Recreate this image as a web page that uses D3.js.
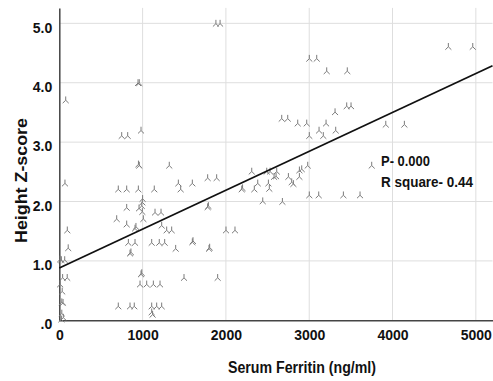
<!DOCTYPE html>
<html>
<head>
<meta charset="utf-8">
<script src="https://cdn.jsdelivr.net/npm/d3@7"></script>
<style>
  html, body { margin: 0; padding: 0; background: #fff; }
  svg { display: block; }
  text { font-family: "Liberation Sans", Arial, sans-serif; fill: #111; }
</style>
</head>
<body>
<svg id="chart" width="493" height="381"></svg>
<script>
// Serum ferritin (ng/ml) and height Z-score
const ferritin = [
  77, 68, 96, 107, 10, 25, 65, 40, 95, 10, 35, 30, 45, 30, 48, 25,
  708, 849, 900, 1109, 1169, 1229, 1109, 1120,
  969, 1049, 1129, 1209, 981, 990, 849, 860,
  829, 909, 1109, 1200, 1265, 1289, 1349, 1229, 909, 920,
  809, 689, 1009, 997, 1149, 1221, 809, 957, 997, 1000, 990,
  708, 809, 949, 1140, 960, 950, 749, 821, 981, 945, 960,
  1320, 1429, 1457, 1597, 1781, 1889, 1781, 1790,
  1397, 1597, 1605, 1797, 1805, 2001, 2109, 1497, 1901, 1880, 1930,
  2190, 2200, 2310, 2341, 2382, 2442,
  2490, 2530, 2610, 2882, 2910, 2578, 2602, 2750, 2882, 2790, 2810,
  2510, 2521, 2678, 2982, 3001, 3114, 3410, 3610, 3750,
  2670, 2742, 2862, 2970, 3202, 3118, 3318, 3001, 3169, 3310, 3450, 3502,
  3001, 3090, 3210, 3457, 3919, 4142, 4670, 4963
];
const zscore = [
  3.71, 2.31, 1.52, 1.22, 1.03, 1.02, 1.02, 0.72, 0.72, 0.61, 0.49, 0.31, 0.30, 0.12, 0.05, 0.02,
  0.24, 0.24, 0.24, 0.24, 0.24, 0.24, 0.14, 0.10,
  0.61, 0.61, 0.61, 0.61, 0.78, 0.80, 1.13, 1.15,
  1.31, 1.31, 1.31, 1.31, 1.31, 1.52, 1.52, 1.60, 1.55, 1.58,
  1.62, 1.71, 1.71, 1.83, 1.82, 1.82, 1.90, 1.89, 1.99, 2.05, 1.93,
  2.21, 2.21, 2.21, 2.21, 2.61, 2.63, 3.11, 3.11, 3.20, 4.00, 4.00,
  2.61, 2.31, 2.21, 2.31, 2.40, 2.40, 1.91, 1.93,
  1.21, 1.32, 1.34, 1.21, 1.23, 1.52, 1.52, 0.72, 0.72, 5.00, 5.00,
  2.21, 2.23, 2.51, 2.21, 2.31, 2.01,
  2.51, 2.51, 2.51, 2.53, 2.55, 2.42, 2.43, 2.42, 2.42, 2.33, 2.30,
  2.31, 2.22, 2.00, 2.61, 2.11, 2.11, 2.11, 2.11, 2.61,
  3.40, 3.40, 3.32, 3.32, 3.32, 3.20, 3.20, 3.11, 3.11, 3.51, 3.61, 3.61,
  4.41, 4.41, 4.20, 4.20, 3.30, 3.30, 4.61, 4.61
];
// Fitted regression line (intercept, slope)
const fitIntercept = 0.88;
const fitSlope = 0.000655;
const xTicks = [0, 1000, 2000, 3000, 4000, 5000];
const yTicks = [0, 1, 2, 3, 4, 5];
const xTitle = "Serum Ferritin (ng/ml)";
const yTitle = "Height Z-score";
const notes = ["P- 0.000", "R square- 0.44"];

const svg = d3.select("#chart");
const x = d3.scaleLinear().domain([0, 5200]).range([59.3, 492.5]);
const y = d3.scaleLinear().domain([0, 5.26]).range([320.3, 7.9]);

// gridlines
svg.append("g").selectAll("line.v").data(xTicks.filter(d => d > 0)).join("line")
  .attr("x1", d => x(d)).attr("x2", d => x(d))
  .attr("y1", y.range()[1]).attr("y2", y(0))
  .attr("stroke", "#dedede").attr("stroke-width", 1);
svg.append("g").selectAll("line.h").data(yTicks.filter(d => d > 0)).join("line")
  .attr("x1", x(0)).attr("x2", x.range()[1])
  .attr("y1", d => y(d)).attr("y2", d => y(d))
  .attr("stroke", "#dedede").attr("stroke-width", 1);

// axes
const xAxis = svg.append("g").attr("transform", `translate(0,${y(0)})`)
  .call(d3.axisBottom(x).tickValues(xTicks).tickFormat(d3.format("d")).tickSize(0).tickPadding(14));
const yAxis = svg.append("g").attr("transform", `translate(${x(0)},0)`)
  .call(d3.axisLeft(y).tickValues(yTicks).tickFormat(d => d === 0 ? ".0" : d.toFixed(1)).tickSize(0).tickPadding(7));
[xAxis, yAxis].forEach(g => {
  g.select(".domain").attr("stroke", "#444").attr("stroke-width", 1.5);
  g.selectAll(".tick text").attr("font-size", 14).attr("font-weight", "bold")
    .attr("font-family", "Liberation Sans, Arial, sans-serif").attr("fill", "#111");
});
yAxis.selectAll(".tick text").attr("dy", "0.62em");
xAxis.selectAll(".tick text").attr("dy", "0.4em");

// points
const pts = ferritin.map((f, i) => ({ f, z: zscore[i] }));
svg.append("g").selectAll("path").data(pts).join("path")
  .attr("transform", d => `translate(${x(d.f)},${y(d.z)})`)
  .attr("d", "M0,-3.5V0.3M0,0.3L-3,3.2M0,0.3L3,3.2")
  .attr("fill", "none").attr("stroke", "#7a7a7a").attr("stroke-width", 1);

// regression line
const fx = x.domain();
svg.append("line")
  .attr("x1", x(fx[0])).attr("y1", y(fitIntercept + fitSlope * fx[0]))
  .attr("x2", x(fx[1])).attr("y2", y(fitIntercept + fitSlope * fx[1]))
  .attr("stroke", "#111").attr("stroke-width", 1.8);

// annotations
svg.append("text").attr("x", 381).attr("y", 165.5).attr("font-size", 15).attr("font-weight", "bold")
  .attr("textLength", 49).attr("lengthAdjust", "spacingAndGlyphs").text(notes[0]);
svg.append("text").attr("x", 381).attr("y", 186.5).attr("font-size", 15).attr("font-weight", "bold")
  .attr("textLength", 92).attr("lengthAdjust", "spacingAndGlyphs").text(notes[1]);

// axis titles
svg.append("text").attr("x", 302).attr("y", 372.5).attr("text-anchor", "middle")
  .attr("font-size", 16).attr("font-weight", "bold")
  .attr("textLength", 148).attr("lengthAdjust", "spacingAndGlyphs").text(xTitle);
svg.append("text").attr("transform", "translate(26.5,180.5) rotate(-90)").attr("text-anchor", "middle")
  .attr("font-size", 16).attr("font-weight", "bold")
  .attr("textLength", 125).attr("lengthAdjust", "spacingAndGlyphs").text(yTitle);
</script>
</body>
</html>
